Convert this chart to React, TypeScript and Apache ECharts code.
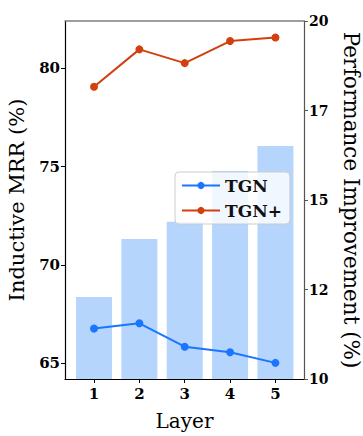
import React, { useEffect, useRef } from "react";
import * as echarts from "echarts";

const layers = [1, 2, 3, 4, 5];
const tgn = [66.77, 67.04, 65.85, 65.57, 65.03];
const tgnPlus = [79.05, 80.95, 80.25, 81.37, 81.55];
const improvement = [12.29, 13.91, 14.39, 15.81, 16.51];
const leftTicks = [65, 70, 75, 80];

const SERIF = "DejaVu Serif";

export default function App() {
  const ref = useRef<HTMLDivElement>(null);
  useEffect(() => {
    const chart = echarts.init(ref.current!, undefined, { renderer: "svg" });
    chart.setOption({
      animation: false,
      grid: { left: 65, right: 59, top: 21, bottom: 57, containLabel: false, outerBoundsMode: "none" },
      legend: {
        data: ["TGN", "TGN+"],
        orient: "vertical",
        left: 175,
        top: 172,
        padding: [5, 8, 5, 6],
        itemGap: 8,
        itemWidth: 38,
        itemHeight: 9,
        backgroundColor: "rgba(255,255,255,0.8)",
        borderColor: "#cccccc",
        borderWidth: 1,
        borderRadius: 4,
        textStyle: { fontFamily: SERIF, fontWeight: "bold", fontSize: 17, color: "#111" },
      },
      xAxis: [
        {
          type: "value",
          min: 0.36,
          max: 5.63,
          name: "Layer",
          nameLocation: "middle",
          nameGap: 32,
          nameTextStyle: { fontFamily: SERIF, fontSize: 20, color: "#000" },
          axisLine: { show: true, lineStyle: { color: "#000", width: 1.2 } },
          axisTick: { show: true, inside: false, length: 4, customValues: layers, lineStyle: { color: "#000" } },
          axisLabel: { customValues: layers, fontFamily: SERIF, fontWeight: "bold", fontSize: 15, color: "#000", margin: 7 },
          splitLine: { show: false },
        },
        {
          type: "value",
          position: "top",
          min: 0.36,
          max: 5.63,
          axisLine: { show: true, onZero: false, lineStyle: { color: "#808080", width: 1.5 } },
          axisTick: { show: false },
          axisLabel: { show: false },
          splitLine: { show: false },
        },
      ],
      yAxis: [
        {
          type: "value",
          min: 64.21,
          max: 82.39,
          name: "Inductive MRR (%)",
          nameLocation: "middle",
          nameGap: 38,
          nameTextStyle: { fontFamily: SERIF, fontSize: 21, color: "#000" },
          axisLine: { show: true, lineStyle: { color: "#000", width: 1.2 } },
          axisTick: { show: true, length: 4, customValues: leftTicks, lineStyle: { color: "#000" } },
          axisLabel: { customValues: leftTicks, fontFamily: SERIF, fontWeight: "bold", fontSize: 15, color: "#000", margin: 5 },
          splitLine: { show: false },
        },
        {
          type: "value",
          position: "right",
          min: 10,
          max: 20,
          interval: 2.5,
          name: "Performance Improvement (%)",
          nameLocation: "middle",
          nameGap: 36,
          nameRotate: -90,
          nameTextStyle: { fontFamily: SERIF, fontSize: 21.5, color: "#000" },
          axisLine: { show: true, lineStyle: { color: "#555", width: 1.2 } },
          axisTick: { show: true, length: 4, lineStyle: { color: "#555" } },
          axisLabel: {
            fontFamily: SERIF,
            fontWeight: "bold",
            fontSize: 14,
            color: "#000",
            margin: 5,
            formatter: (v: number) => String(Math.floor(v)),
          },
          splitLine: { show: false },
        },
      ],
      series: [
        {
          name: "Improvement",
          type: "bar",
          xAxisIndex: 0,
          yAxisIndex: 1,
          barWidth: 36,
          clip: true,
          z: 1,
          itemStyle: { color: "#b5d5fd" },
          data: layers.map((l, i) => [l, improvement[i]]),
        },
        {
          name: "TGN",
          type: "line",
          xAxisIndex: 0,
          yAxisIndex: 0,
          symbol: "circle",
          symbolSize: 8,
          z: 3,
          lineStyle: { color: "#1a75ff", width: 2 },
          itemStyle: { color: "#1a75ff" },
          data: layers.map((l, i) => [l, tgn[i]]),
        },
        {
          name: "TGN+",
          type: "line",
          xAxisIndex: 0,
          yAxisIndex: 0,
          symbol: "circle",
          symbolSize: 8,
          z: 3,
          lineStyle: { color: "#d2400e", width: 2 },
          itemStyle: { color: "#d2400e" },
          data: layers.map((l, i) => [l, tgnPlus[i]]),
        },
      ],
    });
    return () => chart.dispose();
  }, []);
  return <div ref={ref} style={{ width: 363, height: 436, position: "absolute", left: 0, top: 0 }} />;
}
